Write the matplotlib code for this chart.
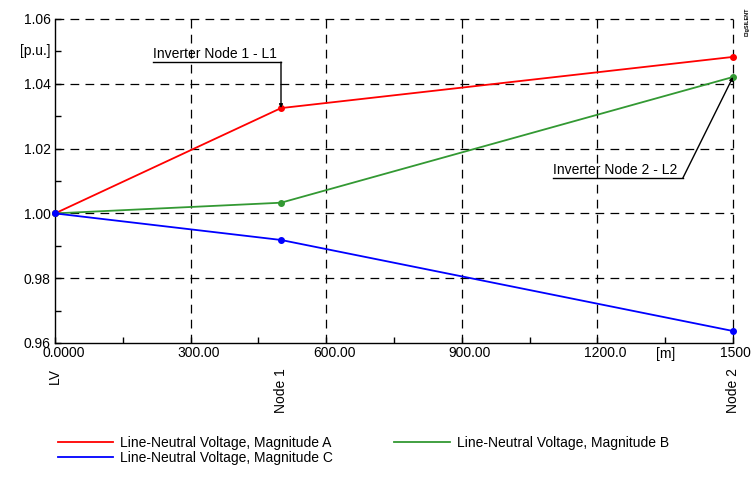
import matplotlib
matplotlib.use("Agg")
import matplotlib.pyplot as plt
from matplotlib.ticker import FixedLocator
from matplotlib.transforms import ScaledTranslation

plt.rcParams['font.family'] = ['Liberation Sans', 'DejaVu Sans']

distance = [0.0, 500.0, 1500.0]
node_names = ["LV", "Node 1", "Node 2"]
volt_a = [1.0000, 1.0325, 1.0483]
volt_b = [1.0000, 1.0033, 1.0421]
volt_c = [1.0000, 0.9918, 0.9637]
series_labels = ["Line-Neutral Voltage, Magnitude A",
                 "Line-Neutral Voltage, Magnitude B",
                 "Line-Neutral Voltage, Magnitude C"]
colors = ["#ff0000", "#339933", "#0000ff"]
x_ticks = [0, 300, 600, 900, 1200, 1500]
x_tick_labels = ["0.0000", "300.00", "600.00", "900.00", "1200.0", "1500"]
y_ticks = [0.96, 0.98, 1.00, 1.02, 1.04, 1.06]
y_tick_labels = ["0.96", "0.98", "1.00", "1.02", "1.04", "1.06"]

fig = plt.figure(figsize=(7.51, 4.92), dpi=100)
ax = fig.add_axes([55/751, 1-343/492, (733-55)/751, (343-19)/492])
ax.set_xlim(0, 1500)
ax.set_ylim(0.96, 1.06)

handles = []
for vals, lab, col in zip([volt_a, volt_b, volt_c], series_labels, colors):
    h, = ax.plot(distance, vals, color=col, lw=1.3, marker='o', ms=4,
                 label=lab, clip_on=False, zorder=5)
    handles.append(h)

# grid
for xv in x_ticks[1:]:
    ax.axvline(xv, color='black', lw=0.9, ls=(0, (7, 5)), clip_on=False, zorder=1)
for yv in y_ticks[1:]:
    ax.axhline(yv, color='black', lw=0.9, ls=(0, (7, 5)), clip_on=False, zorder=1)

ax.spines['top'].set_visible(False)
ax.spines['right'].set_visible(False)
ax.spines['left'].set_linewidth(1.0)
ax.spines['bottom'].set_linewidth(1.0)

ax.set_xticks(x_ticks)
ax.set_xticklabels(x_tick_labels, fontsize=10)
ax.set_yticks(y_ticks)
ax.set_yticklabels(y_tick_labels, fontsize=10)
ax.xaxis.set_minor_locator(FixedLocator([150, 450, 750, 1050, 1350]))
ax.yaxis.set_minor_locator(FixedLocator([0.97, 0.99, 1.01, 1.03, 1.05]))
ax.tick_params(axis='both', which='both', direction='in', length=4, width=1.0)
ax.tick_params(axis='x', which='major', pad=2)
ax.tick_params(axis='y', which='major', pad=3)

# shift x tick labels slightly right as in reference
offsets_px = [9, 8, 8, 8, 8, 2]
for lbl, dx in zip(ax.get_xticklabels(), offsets_px):
    lbl.set_transform(lbl.get_transform() + ScaledTranslation(dx/100, 0, fig.dpi_scale_trans))

# unit labels
ax.text(-0.006, 1.05, "[p.u.]", transform=ax.get_yaxis_transform(),
        ha='right', va='center', fontsize=10)
ax.text(1350, -0.012, "[m]", transform=ax.get_xaxis_transform(),
        ha='center', va='top', fontsize=10)

# node labels
for xv, nm in zip(distance, node_names):
    ax.text(xv, -0.078, nm, transform=ax.get_xaxis_transform(),
            rotation=90, ha='center', va='top', fontsize=10)

# annotations
def underlined_annotation(text, x0, x1, y, target):
    ax.text(x0, y + 0.0003, text, ha='left', va='bottom', fontsize=10)
    ax.plot([x0, x1], [y, y], color='black', lw=1.0, clip_on=False, zorder=6)
    ax.annotate("", xy=target, xytext=(x1, y),
                arrowprops=dict(arrowstyle='-|>', color='black', lw=1.0,
                                mutation_scale=5, shrinkA=0, shrinkB=0),
                zorder=6)

underlined_annotation("Inverter Node 1 - L1", 217, 500, 1.0467, (distance[1], volt_a[1]))
underlined_annotation("Inverter Node 2 - L2", 1102, 1389, 1.0109, (distance[2], volt_b[2]))

# legend
leg_handles = [handles[0], handles[2], handles[1]]
leg_labels = [series_labels[0], series_labels[2], series_labels[1]]
leg = fig.legend(leg_handles, leg_labels, loc='upper left',
                 bbox_to_anchor=(52/751, 1-430/492), ncol=2, frameon=False,
                 fontsize=10, handlelength=4.0, handletextpad=0.5,
                 columnspacing=4.4, labelspacing=0.12, borderaxespad=0)
for lh in leg.legend_handles:
    lh.set_marker('')

fig.text(747/751, 1-8/492, "DIgSILENT", rotation=90, fontsize=4,
         ha='center', va='top', fontweight='bold')

fig.savefig("out.png", dpi=100)
